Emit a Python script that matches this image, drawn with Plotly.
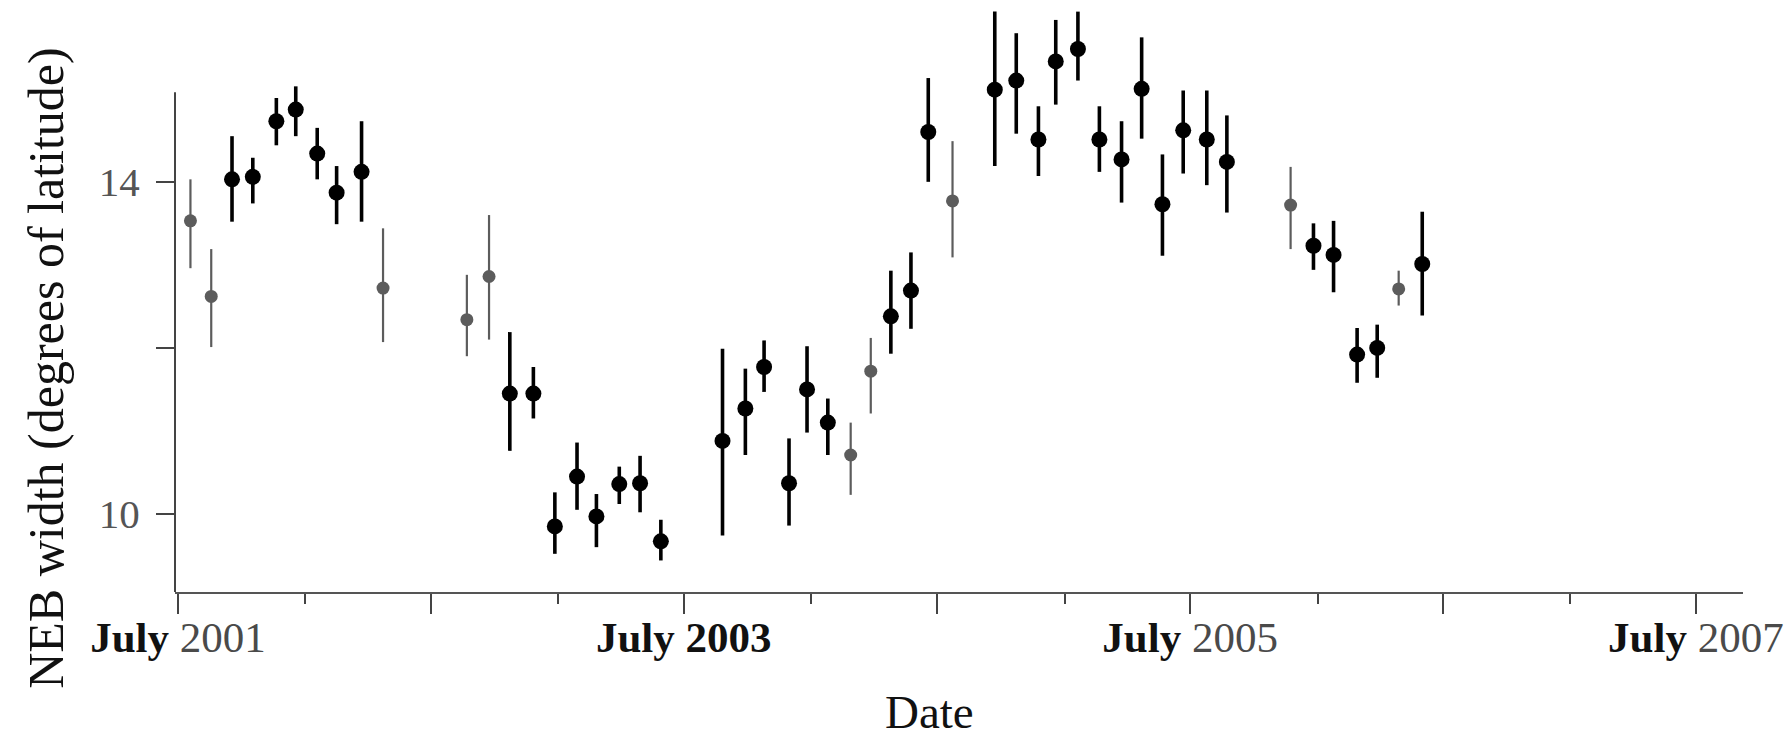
import plotly.graph_objects as go
import numpy as np

# ---- data ----
dates = [
    "2001-07-19", "2001-08-18", "2001-09-17", "2001-10-17", "2001-11-20", "2001-12-18",
    "2002-01-18", "2002-02-15", "2002-03-23", "2002-04-23", "2002-08-22", "2002-09-23",
    "2002-10-23", "2002-11-26", "2002-12-27", "2003-01-28", "2003-02-25", "2003-03-30",
    "2003-04-29", "2003-05-29", "2003-08-26", "2003-09-28", "2003-10-25", "2003-11-30",
    "2003-12-26", "2004-01-25", "2004-02-27", "2004-03-27", "2004-04-25", "2004-05-24",
    "2004-06-18", "2004-07-23", "2004-09-22", "2004-10-23", "2004-11-24", "2004-12-19",
    "2005-01-20", "2005-02-20", "2005-03-24", "2005-04-22", "2005-05-22", "2005-06-21",
    "2005-07-25", "2005-08-23", "2005-11-23", "2005-12-26", "2006-01-24", "2006-02-27",
    "2006-03-28", "2006-04-28", "2006-06-01",
]
width = [
    13.53, 12.62, 14.03, 14.06, 14.73, 14.87, 14.34, 13.87, 14.12, 12.72, 12.34, 12.86,
    11.45, 11.45, 9.85, 10.45, 9.97, 10.36, 10.37, 9.67, 10.88, 11.27, 11.77, 10.37,
    11.50, 11.10, 10.71, 11.72, 12.38, 12.69, 14.60, 13.77, 15.11, 15.22, 14.51, 15.45,
    15.60, 14.51, 14.27, 15.12, 13.73, 14.62, 14.51, 14.24, 13.72, 13.23, 13.12, 11.92,
    12.00, 12.71, 13.01,
]
upper = [
    14.03, 13.19, 14.55, 14.29, 15.01, 15.15, 14.65, 14.19, 14.73, 13.44, 12.88, 13.60,
    12.19, 11.77, 10.26, 10.86, 10.24, 10.57, 10.70, 9.93, 11.99, 11.75, 12.09, 10.91,
    12.02, 11.39, 11.10, 12.12, 12.93, 13.15, 15.25, 14.49, 16.05, 15.79, 14.91, 15.95,
    16.05, 14.91, 14.73, 15.74, 14.33, 15.10, 15.10, 14.80, 14.18, 13.50, 13.53, 12.24,
    12.28, 12.93, 13.64,
]
lower = [
    12.96, 12.01, 13.52, 13.74, 14.44, 14.55, 14.03, 13.49, 13.52, 12.07, 11.90, 12.10,
    10.76, 11.15, 9.52, 10.05, 9.60, 10.12, 10.02, 9.44, 9.74, 10.71, 11.47, 9.86,
    10.98, 10.71, 10.23, 11.21, 11.93, 12.23, 14.00, 13.09, 14.19, 14.58, 14.07, 14.93,
    15.22, 14.12, 13.75, 14.52, 13.11, 14.10, 13.96, 13.63, 13.19, 12.94, 12.67, 11.58,
    11.64, 12.51, 12.39,
]
shade = [
    "g", "g", "k", "k", "k", "k", "k", "k", "k", "g", "g", "g",
    "k", "k", "k", "k", "k", "k", "k", "k", "k", "k", "k", "k",
    "k", "k", "g", "g", "k", "k", "k", "g", "k", "k", "k", "k",
    "k", "k", "k", "k", "k", "k", "k", "k", "g", "k", "k", "k",
    "k", "g", "k",
]

major_ticks = ["2001-07-01", "2002-07-01", "2003-07-01", "2004-07-01",
               "2005-07-01", "2006-07-01", "2007-07-01"]
major_text = ["<b>July</b> <span style='color:#4a4a4a'>2001</span>", "",
              "<b>July 2003</b>", "",
              "<b>July</b> <span style='color:#4a4a4a'>2005</span>", "",
              "<b>July</b> <span style='color:#4a4a4a'>2007</span>"]
minor_ticks = ["2002-01-01", "2003-01-01", "2004-01-01", "2005-01-01",
               "2006-01-01", "2007-01-01"]
y_tickvals = [10, 12, 14]
y_ticktext = ["10", "", "14"]

FONT = "Liberation Serif, Times New Roman, serif"

d = np.array(dates)
y = np.array(width)
up = np.array(upper) - y
lo = y - np.array(lower)
s = np.array(shade)

fig = go.Figure()
styles = {
    "g": dict(color="#5c5c5c", size=13, thick=2.2),
    "k": dict(color="#000000", size=16, thick=3.6),
}
for key in ["g", "k"]:
    m = s == key
    st = styles[key]
    fig.add_trace(go.Scatter(
        x=d[m], y=y[m], mode="markers",
        marker=dict(color=st["color"], size=st["size"], line=dict(width=0)),
        error_y=dict(type="data", symmetric=False, array=up[m], arrayminus=lo[m],
                     color=st["color"], thickness=st["thick"], width=0),
        cliponaxis=False, showlegend=False,
    ))

fig.update_layout(
    width=1790, height=740,
    margin=dict(l=175, r=47, t=0, b=148),
    paper_bgcolor="white", plot_bgcolor="white",
    font=dict(family=FONT, color="#111"),
    xaxis=dict(
        type="date", range=["2001-06-26 17:00", "2007-09-07"],
        showgrid=False, zeroline=False,
        showline=True, linecolor="#555", linewidth=2,
        tickmode="array", tickvals=major_ticks, ticktext=major_text,
        ticks="outside", ticklen=20, tickwidth=2, tickcolor="#444",
        tickfont=dict(family=FONT, size=43, color="#111"),
        ticklabelstandoff=-14,
        minor=dict(tickmode="array", tickvals=minor_ticks, ticks="outside",
                   ticklen=10, tickwidth=2, tickcolor="#444"),
    ),
    yaxis=dict(
        range=[9.06, 16.19], showgrid=False, zeroline=False, showline=False,
        tickmode="array", tickvals=y_tickvals, ticktext=y_ticktext,
        ticks="outside", ticklen=18, tickwidth=2, tickcolor="#444",
        tickfont=dict(family=FONT, size=41, color="#555"),
        ticklabelstandoff=8,
    ),
    shapes=[dict(type="line", xref="paper", x0=0, x1=0, yref="y",
                 y0=9.06, y1=15.08, line=dict(color="#444", width=2))],
    annotations=[
        dict(text="NEB width (degrees of latitude)", textangle=-90,
             xref="paper", x=0, xshift=-129, yref="paper", y=0.377,
             xanchor="center", yanchor="middle", showarrow=False,
             font=dict(family=FONT, size=50, color="#111")),
        dict(text="Date", xref="paper", x=0.4815, yref="paper", y=-0.203,
             xanchor="center", yanchor="middle", showarrow=False,
             font=dict(family=FONT, size=47, color="#111")),
    ],
)

fig.write_html("out.html")
